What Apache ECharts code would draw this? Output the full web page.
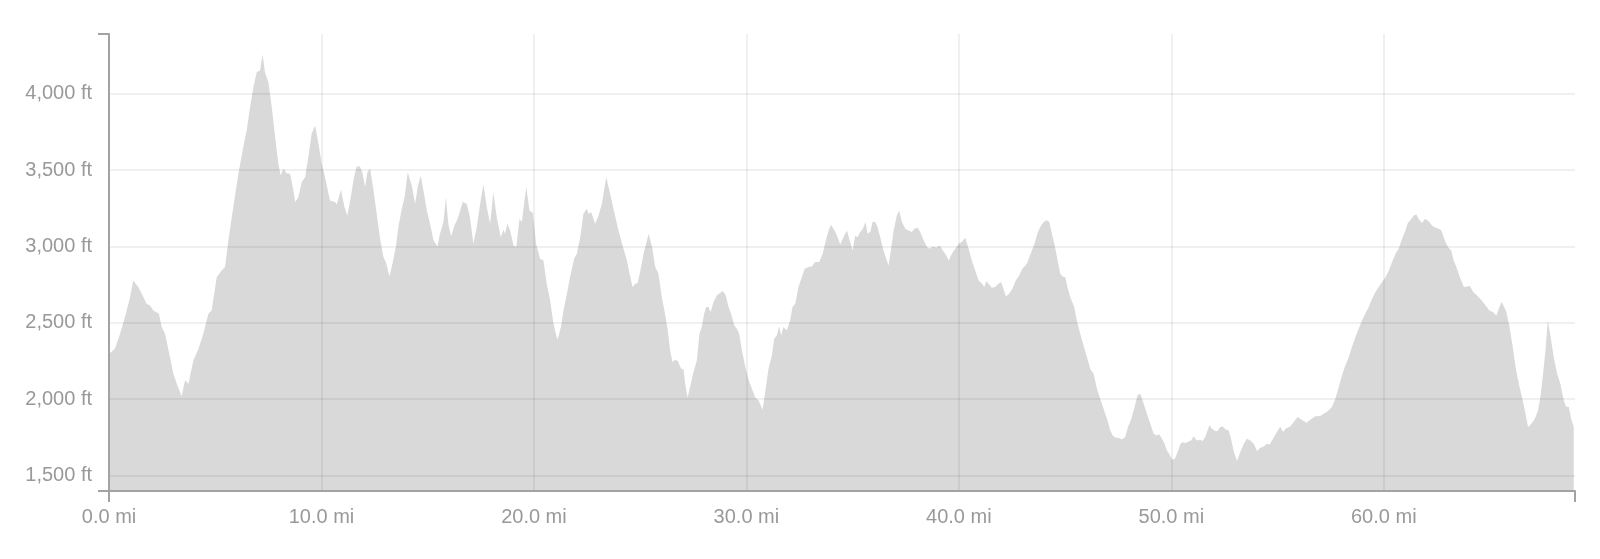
<!DOCTYPE html>
<html>
<head>
<meta charset="utf-8">
<script src="https://cdn.jsdelivr.net/npm/echarts@6/dist/echarts.min.js"></script>
<style>
  html, body { margin: 0; padding: 0; background: #fff; }
  #chart { width: 1600px; height: 559px; }
</style>
</head>
<body>
<div id="chart"></div>
<script>
// Distance along the route (miles)
const distanceMi = [
  0.00,0.28,0.52,0.75,0.99,1.14,1.22,1.38,1.54,1.77,1.93,2.09,2.35,2.48,2.64,2.87,3.03,3.19,3.42,3.58,3.74,3.97,
  4.21,4.44,4.68,4.83,5.07,5.30,5.46,5.62,5.85,6.09,6.32,6.48,6.64,6.80,6.95,7.11,7.23,7.34,7.50,7.66,7.82,7.97,
  8.08,8.21,8.36,8.52,8.68,8.76,8.91,9.07,9.23,9.38,9.54,9.70,9.86,10.01,10.17,10.40,10.64,10.72,10.92,11.08,11.22,
  11.38,11.53,11.66,11.81,11.94,12.05,12.16,12.29,12.45,12.60,12.76,12.92,13.03,13.20,13.34,13.50,13.62,13.78,13.91,
  14.06,14.25,14.41,14.53,14.67,14.80,14.96,15.11,15.27,15.46,15.58,15.74,15.86,15.97,16.10,16.26,16.41,16.65,16.84,
  16.99,17.15,17.31,17.47,17.62,17.78,17.94,18.09,18.25,18.44,18.57,18.64,18.75,18.88,19.04,19.17,19.32,19.43,19.64,
  19.79,19.95,20.10,20.29,20.45,20.60,20.76,20.92,21.05,21.12,21.27,21.39,21.55,21.70,21.89,22.02,22.18,22.33,22.49,
  22.57,22.70,22.88,23.04,23.20,23.40,23.59,23.78,23.98,24.19,24.38,24.50,24.64,24.77,24.88,25.01,25.16,25.40,25.56,
  25.71,25.86,26.02,26.17,26.30,26.41,26.52,26.64,26.77,26.93,27.04,27.12,27.23,27.35,27.51,27.67,27.79,27.90,28.01,
  28.11,28.21,28.32,28.45,28.61,28.76,28.89,29.03,29.16,29.28,29.43,29.55,29.66,29.79,29.95,30.11,30.26,30.42,30.57,
  30.76,30.92,31.04,31.20,31.31,31.43,31.54,31.64,31.74,31.90,32.06,32.17,32.30,32.45,32.61,32.74,32.93,33.08,33.24,
  33.43,33.59,33.74,33.87,33.98,34.15,34.26,34.42,34.57,34.73,34.86,35.00,35.12,35.23,35.36,35.48,35.61,35.70,35.83,
  35.94,36.07,36.17,36.30,36.43,36.58,36.69,36.80,36.93,37.08,37.19,37.32,37.48,37.63,37.79,37.90,38.06,38.18,38.34,
  38.50,38.62,38.78,38.94,39.09,39.25,39.41,39.52,39.67,39.83,39.99,40.14,40.30,40.46,40.61,40.77,40.93,41.09,41.20,
  41.29,41.40,41.55,41.71,41.86,41.99,42.10,42.21,42.37,42.52,42.68,42.84,42.99,43.20,43.41,43.56,43.72,43.83,43.99,
  44.14,44.26,44.38,44.51,44.65,44.77,44.88,45.01,45.13,45.27,45.43,45.55,45.71,45.87,46.03,46.18,46.34,46.50,46.65,
  46.81,46.97,47.13,47.24,47.39,47.55,47.68,47.83,47.96,48.12,48.27,48.41,48.54,48.70,48.85,49.01,49.17,49.32,49.43,
  49.56,49.68,49.79,49.91,50.04,50.16,50.30,50.43,50.54,50.66,50.82,50.93,51.05,51.20,51.36,51.47,51.60,51.68,51.79,
  51.91,52.07,52.18,52.30,52.42,52.54,52.70,52.81,52.93,53.09,53.25,53.41,53.56,53.72,53.88,54.03,54.19,54.35,54.50,
  54.63,54.79,54.97,55.13,55.26,55.37,55.60,55.76,55.95,56.11,56.36,56.54,56.78,57.01,57.17,57.36,57.56,57.72,57.88,
  58.03,58.19,58.35,58.50,58.66,58.82,58.98,59.13,59.29,59.45,59.61,59.76,59.92,60.08,60.24,60.39,60.55,60.70,60.86,
  61.02,61.13,61.25,61.41,61.53,61.67,61.80,61.95,62.11,62.27,62.43,62.59,62.71,62.87,63.02,63.17,63.29,63.45,63.58,
  63.77,63.92,64.05,64.21,64.39,64.60,64.79,64.97,65.13,65.30,65.41,65.54,65.65,65.77,65.92,66.07,66.23,66.39,66.54,
  66.67,66.79,66.95,67.11,67.26,67.37,67.48,67.61,67.72,67.84,68.00,68.16,68.31,68.47,68.58,68.71,68.82,68.94
];

// Elevation (feet)
const elevationFt = [
  2295,2330,2428,2537,2668,2777,2788,2734,2690,2625,2614,2581,2559,2472,2428,2275,2166,2101,2018,2123,2101,2253,
  2330,2428,2559,2581,2799,2843,2865,3040,3258,3476,3651,3760,3913,4044,4142,4153,4258,4142,4076,3913,3716,3542,
  3465,3509,3480,3476,3367,3291,3323,3421,3454,3585,3738,3793,3673,3542,3454,3301,3291,3275,3371,3258,3203,
  3323,3454,3524,3524,3476,3389,3487,3509,3367,3214,3050,2930,2898,2804,2887,2996,3127,3247,3323,
  3487,3400,3280,3389,3465,3367,3236,3149,3040,3000,3083,3160,3323,3149,3066,3138,3181,3291,3280,
  3192,3018,3127,3280,3406,3258,3149,3356,3192,3061,3109,3083,3149,3105,3007,2996,3181,3160,3389,
  3236,3219,3018,2919,2908,2756,2647,2494,2417,2391,2472,2581,2690,2799,2919,2952,3061,3214,3247,
  3214,3225,3149,3203,3280,3454,3345,3225,3105,2996,2908,2821,2734,2756,2760,2843,2952,3083,2996,
  2865,2821,2668,2559,2450,2319,2243,2258,2249,2199,2195,2101,2009,2079,2177,2254,2428,2472,2559,
  2603,2603,2570,2636,2679,2695,2708,2679,2603,2559,2483,2461,2428,2319,2210,2123,2068,2009,1992,
  1931,2079,2199,2286,2396,2417,2476,2417,2472,2450,2516,2603,2625,2734,2799,2854,2865,2869,2898,
  2898,2952,3040,3105,3142,3105,3072,3013,3061,3105,3040,2974,3072,3061,3094,3116,3160,3083,3094,
  3160,3160,3127,3061,2985,2919,2876,2974,3105,3203,3236,3160,3116,3105,3094,3116,3122,3094,3040,
  2996,2985,3000,2991,3007,2974,2941,2908,2952,2985,3018,3029,3057,2985,2908,2843,2777,2756,2734,
  2773,2756,2730,2734,2756,2767,2723,2673,2690,2723,2777,2810,2854,2887,2963,3018,3094,3127,3160,
  3171,3160,3083,3007,2908,2821,2804,2799,2723,2657,2603,2516,2428,2352,2275,2199,2166,2068,2003,
  1937,1872,1795,1762,1747,1745,1736,1751,1817,1872,1948,2025,2035,1970,1904,1839,1773,1762,1769,
  1740,1708,1664,1638,1605,1607,1653,1708,1718,1712,1723,1729,1756,1729,1734,1725,1751,1784,1828,
  1806,1791,1791,1817,1821,1802,1795,1740,1664,1594,1653,1708,1740,1729,1708,1660,1682,1690,1708,
  1703,1740,1784,1821,1784,1806,1821,1850,1883,1867,1845,1865,1887,1889,1904,1921,1948,2003,2079,
  2155,2221,2275,2341,2406,2461,2516,2559,2603,2657,2701,2734,2767,2799,2843,2898,2952,2985,3050,
  3105,3153,3171,3203,3210,3175,3153,3181,3166,3138,3122,3116,3105,3040,2996,2974,2908,2854,2799,
  2734,2738,2741,2701,2679,2647,2614,2581,2570,2548,2592,2636,2608,2570,2472,2341,2188,2079,1992,
  1904,1817,1839,1872,1926,2013,2144,2319,2516,2417,2275,2166,2101,1992,1952,1948,1872,1817
];

// Axis tick values
const xTickValues = [0, 10, 20, 30, 40, 50, 60];
const yTickValues = [1500, 2000, 2500, 3000, 3500, 4000];
const xDomain = [0, 69];
const yDomain = [1398, 4392];

const seriesData = distanceMi.map((d, i) => [d, elevationFt[i]]);

const FONT = "'Helvetica Neue', Helvetica, 'Liberation Sans', Arial, sans-serif";
const LABEL_COLOR = '#999999';
const AXIS_COLOR = '#a3a3a3';
const GRID_COLOR = 'rgba(0,0,0,0.08)';

const gridRect = { left: 109, right: 25, top: 34, bottom: 68 };

const chart = echarts.init(document.getElementById('chart'), null, { renderer: 'canvas' });

chart.setOption({
  animation: false,
  backgroundColor: '#ffffff',
  grid: [
    Object.assign({ containLabel: false }, gridRect),
    Object.assign({ containLabel: false }, gridRect)
  ],
  xAxis: [
    {
      type: 'value', gridIndex: 0, min: xDomain[0], max: xDomain[1], z: 3,
      axisLine: { show: false, onZero: false },
      axisTick: { show: false, customValues: xTickValues },
      axisLabel: {
        customValues: xTickValues, color: LABEL_COLOR, fontFamily: FONT, fontSize: 20, margin: 16,
        formatter: v => v.toFixed(1) + ' mi'
      },
      splitLine: { show: true, showMinLine: false, lineStyle: { color: GRID_COLOR, width: 1.5 } }
    },
    {
      type: 'value', gridIndex: 1, min: xDomain[0], max: xDomain[1], z: 4,
      axisLine: { show: true, onZero: false, lineStyle: { color: AXIS_COLOR, width: 2 } },
      axisTick: { show: true, customValues: xDomain, length: 11, lineStyle: { color: AXIS_COLOR, width: 2 } },
      axisLabel: { show: false },
      splitLine: { show: false }
    }
  ],
  yAxis: [
    {
      type: 'value', gridIndex: 0, min: yDomain[0], max: yDomain[1], z: 3,
      axisLine: { show: false, onZero: false },
      axisTick: { show: false, customValues: yTickValues },
      axisLabel: {
        customValues: yTickValues, color: LABEL_COLOR, fontFamily: FONT, fontSize: 20, margin: 17,
        formatter: v => v.toLocaleString('en-US') + ' ft'
      },
      splitLine: { show: true, lineStyle: { color: GRID_COLOR, width: 1.5 } }
    },
    {
      type: 'value', gridIndex: 1, min: yDomain[0], max: yDomain[1], z: 4,
      axisLine: { show: true, onZero: false, lineStyle: { color: AXIS_COLOR, width: 2 } },
      axisTick: { show: true, customValues: yDomain, length: 11, lineStyle: { color: AXIS_COLOR, width: 2 } },
      axisLabel: { show: false },
      splitLine: { show: false }
    }
  ],
  series: [
    {
      type: 'line',
      xAxisIndex: 0, yAxisIndex: 0,
      data: seriesData,
      showSymbol: false,
      symbol: 'none',
      silent: true,
      smooth: false,
      lineStyle: { width: 0, color: '#d9d9d9' },
      areaStyle: { color: '#d9d9d9', opacity: 1, origin: 'start' },
      z: 2
    }
  ]
});
</script>
</body>
</html>
